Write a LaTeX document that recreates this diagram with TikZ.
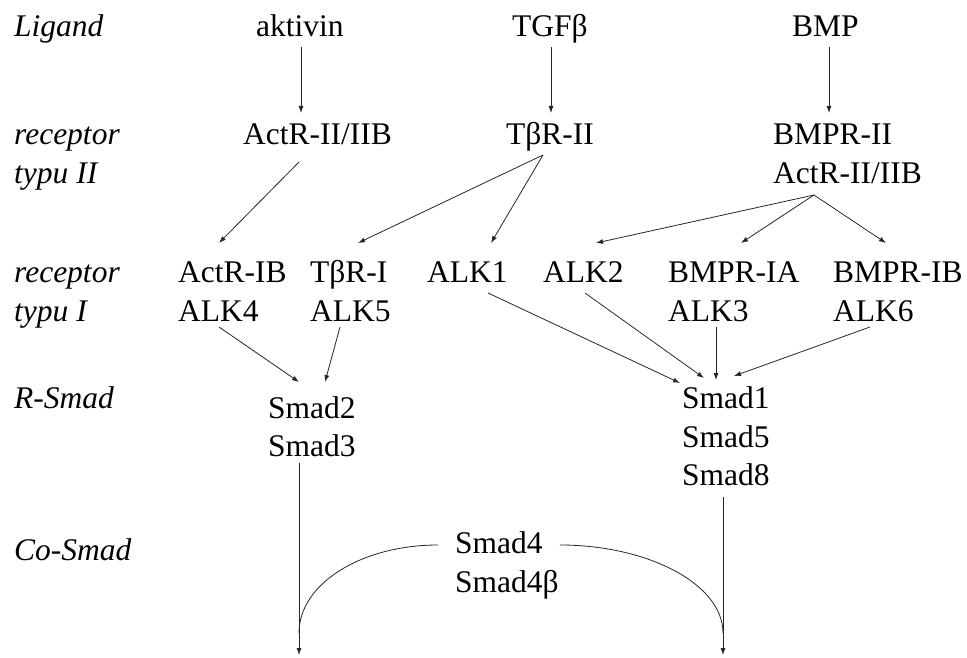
\documentclass[tikz,border=0pt]{standalone}
\usepackage{fontspec}
\setmainfont{Liberation Serif}
\usetikzlibrary{arrows.meta,calc}
\begin{document}
\begin{tikzpicture}[x=1pt,y=-1pt,
  txt/.style={inner sep=0pt,anchor=base west,font=\fontsize{31.5}{38}\selectfont},
  lbl/.style={txt,font=\fontsize{31.5}{38}\selectfont\itshape},
  arr/.style={draw=black!85,line width=0.8pt,-{Latex[length=7pt,width=5pt]}},
  ln/.style={draw=black!85,line width=0.8pt}]
\useasboundingbox (0,0) rectangle (967,658);
% row labels
\node[lbl] (lig)  at (14,37)  {Ligand};
\node[lbl] (rec2) at (14,145) {receptor};
\node[lbl] (typ2) at (14,184) {typu II};
\node[lbl] (rec1) at (14,282) {receptor};
\node[lbl] (typ1) at (14,321) {typu I};
\node[lbl] (rsm)  at (14,408) {R-Smad};
\node[lbl] (csm)  at (14,560) {Co-Smad};
% ligands
\node[txt] (akt) at (256,37) {aktivin};
\node[txt] (tgf) at (512,37) {TGFβ};
\node[txt] (bmp) at (792,37) {BMP};
% type II receptors
\node[txt] (actII)  at (243,145) {ActR-II/IIB};
\node[txt] (tbrII)  at (506,145) {TβR-II};
\node[txt] (bmprII) at (773,145) {BMPR-II};
\node[txt] (actIIb) at (773,184) {ActR-II/IIB};
% type I receptors
\node[txt] (actIB)  at (178,282) {ActR-IB};
\node[txt] (alk4)   at (178,321) {ALK4};
\node[txt] (tbrI)   at (310,282) {TβR-I};
\node[txt] (alk5)   at (310,321) {ALK5};
\node[txt] (alk1)   at (427,282) {ALK1};
\node[txt] (alk2)   at (543,282) {ALK2};
\node[txt] (bmpria) at (668,282) {BMPR-IA};
\node[txt] (alk3)   at (668,321) {ALK3};
\node[txt] (bmprib) at (833,282) {BMPR-IB};
\node[txt] (alk6)   at (833,321) {ALK6};
% R-Smads
\node[txt] (smad2) at (268,418) {Smad2};
\node[txt] (smad3) at (268,456) {Smad3};
\node[txt] (smad1) at (682,408) {Smad1};
\node[txt] (smad5) at (682,447) {Smad5};
\node[txt] (smad8) at (682,485) {Smad8};
% Co-Smad
\node[txt] (smad4)  at (455,553) {Smad4};
\node[txt] (smad4b) at (455,592) {Smad4β};
% free ends
\coordinate (endL)  at (299,655);
\coordinate (endR)  at (723,655);
\coordinate (joinL) at (299,633);
\coordinate (joinR) at (723,633);
% ligand -> type II
\draw[arr] ($(akt.base west)+(45,10)$) -- ($(actII.base west)+(58,-32)$);
\draw[arr] ($(tgf.base west)+(39,10)$) -- ($(tbrII.base west)+(45,-32)$);
\draw[arr] ($(bmp.base west)+(37,10)$) -- ($(bmprII.base west)+(56,-32)$);
% type II -> type I
\draw[arr] ($(actII.base west)+(56,17)$) -- ($(actIB.base west)+(41,-39)$);
\draw[arr] ($(tbrII.base west)+(37,10)$) -- ($(tbrI.base west)+(48,-39)$);
\draw[arr] ($(tbrII.base west)+(37,10)$) -- ($(alk1.base west)+(64,-39)$);
\draw[arr] ($(actIIb.base west)+(41,11)$) -- ($(alk2.base west)+(53,-39)$);
\draw[arr] ($(actIIb.base west)+(41,11)$) -- ($(bmpria.base west)+(73,-39)$);
\draw[arr] ($(actIIb.base west)+(41,11)$) -- ($(bmprib.base west)+(53,-39)$);
% type I -> R-Smad
\draw[arr] ($(alk4.base west)+(41,6)$) -- ($(smad2.base west)+(31,-36)$);
\draw[arr] ($(alk5.base west)+(30,6)$) -- ($(smad2.base west)+(57,-36)$);
\draw[arr] ($(alk1.base west)+(61,11)$) -- ($(smad1.base west)+(-2,-25)$);
\draw[arr] ($(alk2.base west)+(42,11)$) -- ($(smad1.base west)+(22,-30)$);
\draw[arr] ($(alk3.base west)+(48,6)$) -- ($(smad1.base west)+(34,-28)$);
\draw[arr] ($(alk6.base west)+(37,6)$) -- ($(smad1.base west)+(52,-32)$);
% R-Smad -> down
\draw[arr] ($(smad3.base west)+(31,7)$) -- (endL);
\draw[arr] ($(smad8.base west)+(41,12)$) -- (endR);
% Co-Smad curves
\draw[ln] ($(smad4.base west)+(-17,-8)$) .. controls +(-77,0) and +(0,-49) .. (joinL);
\draw[ln] ($(smad4.base east)+(17,-8)$) .. controls +(88,0) and +(0,-49) .. (joinR);
\end{tikzpicture}
\end{document}
